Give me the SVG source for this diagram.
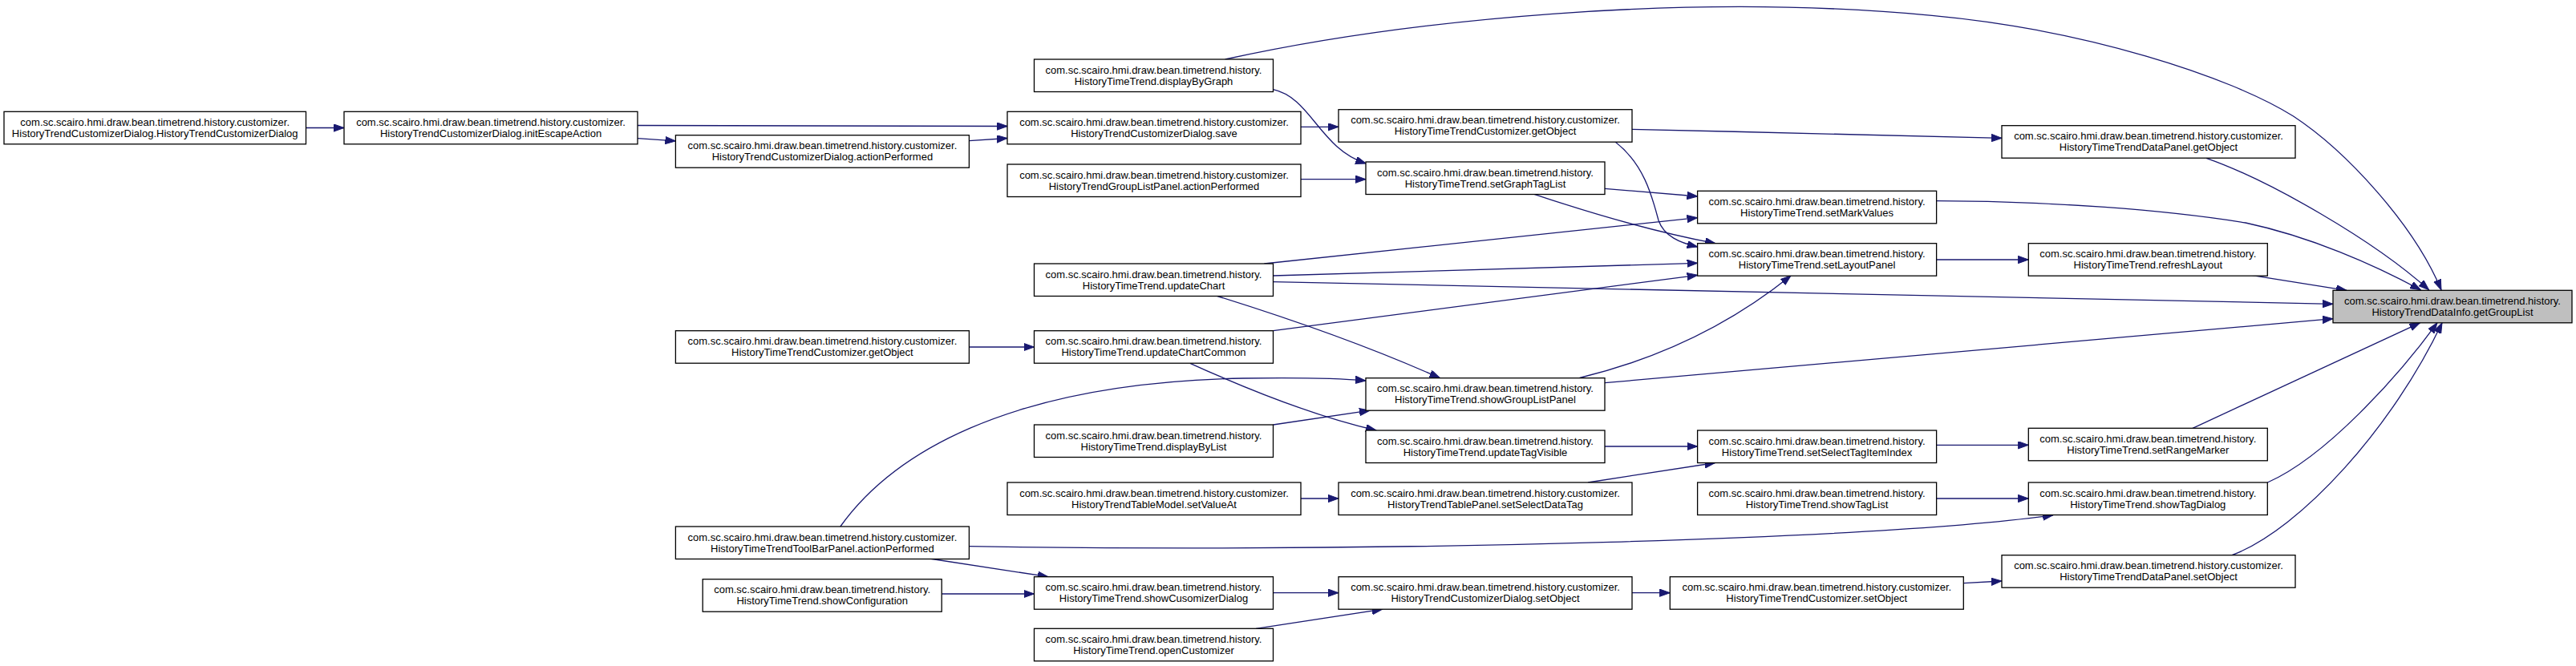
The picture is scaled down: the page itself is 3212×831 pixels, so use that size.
<svg xmlns="http://www.w3.org/2000/svg" width="3212" height="831" viewBox="0 0 3212 831">
<style>
.node rect{fill:#ffffff;stroke:#000000;stroke-width:1.3}
.root rect{fill:#bfbfbf}
.node text{font-family:"Liberation Sans",Arial,Helvetica,sans-serif;font-size:13px;text-anchor:middle;fill:#000000}
.edges path{fill:none;stroke:#191970;stroke-width:1.3;marker-end:url(#arr)}
</style>
<defs>
<marker id="arr" markerUnits="userSpaceOnUse" markerWidth="14" markerHeight="10" refX="13" refY="4.65" orient="auto">
<path d="M0,0 L13,4.65 L0,9.3 Z" fill="#191970" stroke="#191970" stroke-width="1"/>
</marker>
</defs>
<rect x="0" y="0" width="3212" height="831" fill="#ffffff"/>
<g id="connectors" class="edges">
<path d="M381.5,159.5 L429,159.5"/>
<path d="M795,156.5 L1256,157.5"/>
<path d="M795,172.7 L842.4,175.9"/>
<path d="M1208.4,175.7 L1256,172.5"/>
<path d="M1622,158.3 L1669,158.3"/>
<path d="M1527.6,74 C1750,25 2100,-10 2409,19.3 C2600,37 2780,95 2859.6,145 C2925,188 3010,280 3044,361.8"/>
<path d="M1587.5,111.7 C1635,122 1645,185 1703.3,204"/>
<path d="M1622,223.7 L1703,223.7"/>
<path d="M2034.6,161.3 C2200,165 2400,170 2496,172.3"/>
<path d="M2014,177 C2050,205 2060,245 2068,275 C2075,295 2095,303 2116.6,308"/>
<path d="M2001,235.3 L2116.6,245"/>
<path d="M1913,242.3 Q2040,285 2139,303.7"/>
<path d="M1576.3,329 L2116.6,271.7"/>
<path d="M1587.5,344 L2116.6,328.3"/>
<path d="M1587.5,351.7 L2909,379.3"/>
<path d="M1517.4,369.3 Q1680,420 1795.5,471.7"/>
<path d="M1587.5,412.7 L2116.6,343.3"/>
<path d="M1484,453.3 Q1620,515 1716,537"/>
<path d="M1208.4,433 L1289.5,433"/>
<path d="M2414.6,324 L2529.3,324"/>
<path d="M2808.4,343.7 L2926,362.3"/>
<path d="M1969.6,471.5 Q2120,435 2233,344"/>
<path d="M2001,477.7 L2909,397.7"/>
<path d="M1047.8,657 C1110,570 1250,478 1550,472 C1620,471 1670,472 1703,475"/>
<path d="M1587.5,530 L1708,512.2"/>
<path d="M1208.4,681.7 C1750,690 2350,672 2560,642.8"/>
<path d="M1159,697 L1307,719.7"/>
<path d="M1174.2,741 L1289.5,741"/>
<path d="M1587.5,739.7 L1669,739.7"/>
<path d="M1566,784.3 L1723.8,760.2"/>
<path d="M2035,739.7 L2082.3,739.7"/>
<path d="M2448.3,727.7 L2496,725"/>
<path d="M2001,557 L2116.6,557"/>
<path d="M1980,602 L2138.6,577.5"/>
<path d="M1622,622 L1669,622"/>
<path d="M2414.6,555.3 L2529.3,555.3"/>
<path d="M2414.6,622 L2529.3,622"/>
<path d="M2734,534.3 L3017.4,402.8"/>
<path d="M2827.4,602 C2900,570 2990,470 3039,402.8"/>
<path d="M2783,692.7 C2870,660 2985,530 3045,402.8"/>
<path d="M2751,197.3 C2830,225 2960,300 3028.6,361.8"/>
<path d="M2414.6,250.7 C2560,251 2700,262 2800,278 C2880,295 2960,330 3018.4,361.8"/>
</g>
<g id="n_getGroupList" class="node root"><rect x="2909" y="362.3" width="298" height="40.5"/><text x="3058" y="379.8">com.sc.scairo.hmi.draw.bean.timetrend.history.</text><text x="3058" y="393.8">HistoryTrendDataInfo.getGroupList</text></g>
<g id="n_displayByGraph" class="node"><rect x="1289.5" y="74" width="298" height="40.5"/><text x="1438.5" y="91.5">com.sc.scairo.hmi.draw.bean.timetrend.history.</text><text x="1438.5" y="105.5">HistoryTimeTrend.displayByGraph</text></g>
<g id="n_dataPanelGetObject" class="node"><rect x="2496" y="156.7" width="366" height="40.5"/><text x="2679" y="174.2">com.sc.scairo.hmi.draw.bean.timetrend.history.customizer.</text><text x="2679" y="188.2">HistoryTimeTrendDataPanel.getObject</text></g>
<g id="n_customizerGetObject2" class="node"><rect x="1669" y="136.7" width="366" height="40.5"/><text x="1852" y="154.2">com.sc.scairo.hmi.draw.bean.timetrend.history.customizer.</text><text x="1852" y="168.2">HistoryTimeTrendCustomizer.getObject</text></g>
<g id="n_dialogSave" class="node"><rect x="1256" y="139.3" width="366" height="40.5"/><text x="1439" y="156.8">com.sc.scairo.hmi.draw.bean.timetrend.history.customizer.</text><text x="1439" y="170.8">HistoryTrendCustomizerDialog.save</text></g>
<g id="n_initEscapeAction" class="node"><rect x="429" y="139.3" width="366" height="40.5"/><text x="612" y="156.8">com.sc.scairo.hmi.draw.bean.timetrend.history.customizer.</text><text x="612" y="170.8">HistoryTrendCustomizerDialog.initEscapeAction</text></g>
<g id="n_dialogCtor" class="node"><rect x="5" y="139.3" width="376.5" height="40.5"/><text x="193.2" y="156.8">com.sc.scairo.hmi.draw.bean.timetrend.history.customizer.</text><text x="193.2" y="170.8">HistoryTrendCustomizerDialog.HistoryTrendCustomizerDialog</text></g>
<g id="n_dialogActionPerformed" class="node"><rect x="842.4" y="168.7" width="366" height="40.5"/><text x="1025.4" y="186.2">com.sc.scairo.hmi.draw.bean.timetrend.history.customizer.</text><text x="1025.4" y="200.2">HistoryTrendCustomizerDialog.actionPerformed</text></g>
<g id="n_setMarkValues" class="node"><rect x="2116.6" y="238.3" width="298" height="40.5"/><text x="2265.6" y="255.8">com.sc.scairo.hmi.draw.bean.timetrend.history.</text><text x="2265.6" y="269.8">HistoryTimeTrend.setMarkValues</text></g>
<g id="n_setGraphTagList" class="node"><rect x="1703" y="202" width="298" height="40.5"/><text x="1852" y="219.5">com.sc.scairo.hmi.draw.bean.timetrend.history.</text><text x="1852" y="233.5">HistoryTimeTrend.setGraphTagList</text></g>
<g id="n_groupListActionPerformed" class="node"><rect x="1256" y="205" width="366" height="40.5"/><text x="1439" y="222.5">com.sc.scairo.hmi.draw.bean.timetrend.history.customizer.</text><text x="1439" y="236.5">HistoryTrendGroupListPanel.actionPerformed</text></g>
<g id="n_updateChart" class="node"><rect x="1289.5" y="329" width="298" height="40.5"/><text x="1438.5" y="346.5">com.sc.scairo.hmi.draw.bean.timetrend.history.</text><text x="1438.5" y="360.5">HistoryTimeTrend.updateChart</text></g>
<g id="n_refreshLayout" class="node"><rect x="2529.3" y="303.7" width="298" height="40.5"/><text x="2678.3" y="321.2">com.sc.scairo.hmi.draw.bean.timetrend.history.</text><text x="2678.3" y="335.2">HistoryTimeTrend.refreshLayout</text></g>
<g id="n_setLayoutPanel" class="node"><rect x="2116.6" y="303.7" width="298" height="40.5"/><text x="2265.6" y="321.2">com.sc.scairo.hmi.draw.bean.timetrend.history.</text><text x="2265.6" y="335.2">HistoryTimeTrend.setLayoutPanel</text></g>
<g id="n_showGroupListPanel" class="node"><rect x="1703" y="471.7" width="298" height="40.5"/><text x="1852" y="489.2">com.sc.scairo.hmi.draw.bean.timetrend.history.</text><text x="1852" y="503.2">HistoryTimeTrend.showGroupListPanel</text></g>
<g id="n_updateChartCommon" class="node"><rect x="1289.5" y="412.7" width="298" height="40.5"/><text x="1438.5" y="430.2">com.sc.scairo.hmi.draw.bean.timetrend.history.</text><text x="1438.5" y="444.2">HistoryTimeTrend.updateChartCommon</text></g>
<g id="n_customizerGetObject1" class="node"><rect x="842.4" y="412.7" width="366" height="40.5"/><text x="1025.4" y="430.2">com.sc.scairo.hmi.draw.bean.timetrend.history.customizer.</text><text x="1025.4" y="444.2">HistoryTimeTrendCustomizer.getObject</text></g>
<g id="n_toolBarActionPerformed" class="node"><rect x="842.4" y="657" width="366" height="40.5"/><text x="1025.4" y="674.5">com.sc.scairo.hmi.draw.bean.timetrend.history.customizer.</text><text x="1025.4" y="688.5">HistoryTimeTrendToolBarPanel.actionPerformed</text></g>
<g id="n_displayByList" class="node"><rect x="1289.5" y="530" width="298" height="40.5"/><text x="1438.5" y="547.5">com.sc.scairo.hmi.draw.bean.timetrend.history.</text><text x="1438.5" y="561.5">HistoryTimeTrend.displayByList</text></g>
<g id="n_setRangeMarker" class="node"><rect x="2529.3" y="534.3" width="298" height="40.5"/><text x="2678.3" y="551.8">com.sc.scairo.hmi.draw.bean.timetrend.history.</text><text x="2678.3" y="565.8">HistoryTimeTrend.setRangeMarker</text></g>
<g id="n_setSelectTagItemIndex" class="node"><rect x="2116.6" y="537" width="298" height="40.5"/><text x="2265.6" y="554.5">com.sc.scairo.hmi.draw.bean.timetrend.history.</text><text x="2265.6" y="568.5">HistoryTimeTrend.setSelectTagItemIndex</text></g>
<g id="n_updateTagVisible" class="node"><rect x="1703" y="537" width="298" height="40.5"/><text x="1852" y="554.5">com.sc.scairo.hmi.draw.bean.timetrend.history.</text><text x="1852" y="568.5">HistoryTimeTrend.updateTagVisible</text></g>
<g id="n_setSelectDataTag" class="node"><rect x="1669" y="602" width="366" height="40.5"/><text x="1852" y="619.5">com.sc.scairo.hmi.draw.bean.timetrend.history.customizer.</text><text x="1852" y="633.5">HistoryTrendTablePanel.setSelectDataTag</text></g>
<g id="n_setValueAt" class="node"><rect x="1256" y="602" width="366" height="40.5"/><text x="1439" y="619.5">com.sc.scairo.hmi.draw.bean.timetrend.history.customizer.</text><text x="1439" y="633.5">HistoryTrendTableModel.setValueAt</text></g>
<g id="n_showTagDialog" class="node"><rect x="2529.3" y="602" width="298" height="40.5"/><text x="2678.3" y="619.5">com.sc.scairo.hmi.draw.bean.timetrend.history.</text><text x="2678.3" y="633.5">HistoryTimeTrend.showTagDialog</text></g>
<g id="n_showTagList" class="node"><rect x="2116.6" y="602" width="298" height="40.5"/><text x="2265.6" y="619.5">com.sc.scairo.hmi.draw.bean.timetrend.history.</text><text x="2265.6" y="633.5">HistoryTimeTrend.showTagList</text></g>
<g id="n_dataPanelSetObject" class="node"><rect x="2496" y="692.7" width="366" height="40.5"/><text x="2679" y="710.2">com.sc.scairo.hmi.draw.bean.timetrend.history.customizer.</text><text x="2679" y="724.2">HistoryTimeTrendDataPanel.setObject</text></g>
<g id="n_customizerSetObject" class="node"><rect x="2082.3" y="719.7" width="366" height="40.5"/><text x="2265.3" y="737.2">com.sc.scairo.hmi.draw.bean.timetrend.history.customizer.</text><text x="2265.3" y="751.2">HistoryTimeTrendCustomizer.setObject</text></g>
<g id="n_dialogSetObject" class="node"><rect x="1669" y="719.7" width="366" height="40.5"/><text x="1852" y="737.2">com.sc.scairo.hmi.draw.bean.timetrend.history.customizer.</text><text x="1852" y="751.2">HistoryTrendCustomizerDialog.setObject</text></g>
<g id="n_showCusomizerDialog" class="node"><rect x="1289.5" y="719.7" width="298" height="40.5"/><text x="1438.5" y="737.2">com.sc.scairo.hmi.draw.bean.timetrend.history.</text><text x="1438.5" y="751.2">HistoryTimeTrend.showCusomizerDialog</text></g>
<g id="n_showConfiguration" class="node"><rect x="876.2" y="722.7" width="298" height="40.5"/><text x="1025.2" y="740.2">com.sc.scairo.hmi.draw.bean.timetrend.history.</text><text x="1025.2" y="754.2">HistoryTimeTrend.showConfiguration</text></g>
<g id="n_openCustomizer" class="node"><rect x="1289.5" y="784.3" width="298" height="40.5"/><text x="1438.5" y="801.8">com.sc.scairo.hmi.draw.bean.timetrend.history.</text><text x="1438.5" y="815.8">HistoryTimeTrend.openCustomizer</text></g>
</svg>
